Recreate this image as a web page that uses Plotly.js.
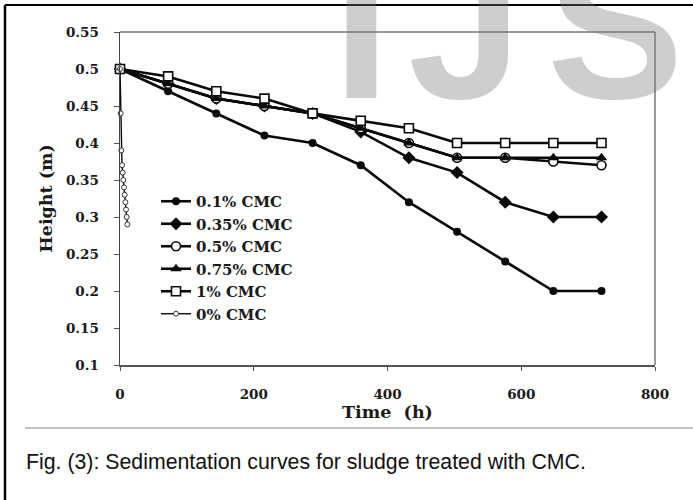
<!DOCTYPE html>
<html>
<head>
<meta charset="utf-8">
<script src="https://cdn.plot.ly/plotly-3.0.1.min.js"></script>
<style>
  html, body { margin: 0; padding: 0; background: #fff; }
  #chart { width: 693px; height: 500px; }
</style>
</head>
<body>
<div id="chart"></div>
<script>
// Settling time (h) for the CMC-treated samples
const time = [0, 72, 144, 216, 288, 360, 432, 504, 576, 648, 720];
// Interface height (m) for each CMC dose
const cmc01  = [0.50, 0.47, 0.44, 0.41, 0.40, 0.37, 0.32, 0.28, 0.24, 0.20, 0.20];
const cmc035 = [0.50, 0.48, 0.46, 0.45, 0.44, 0.415, 0.38, 0.36, 0.32, 0.30, 0.30];
const cmc05  = [0.50, 0.48, 0.46, 0.45, 0.44, 0.42, 0.40, 0.38, 0.38, 0.375, 0.37];
const cmc075 = [0.50, 0.48, 0.46, 0.45, 0.44, 0.42, 0.40, 0.38, 0.38, 0.38, 0.38];
const cmc1   = [0.50, 0.49, 0.47, 0.46, 0.44, 0.43, 0.42, 0.40, 0.40, 0.40, 0.40];
// Untreated sludge settles within the first hours
const timeUntreated = [0, 1, 2, 3, 4, 5, 6, 7, 8, 9, 10, 11];
const cmc0 = [0.50, 0.44, 0.39, 0.37, 0.36, 0.35, 0.34, 0.33, 0.32, 0.31, 0.30, 0.29];

const seriesNames = ['0.1% CMC', '0.35% CMC', '0.5% CMC', '0.75% CMC', '1% CMC', '0% CMC'];
const xTicks = [0, 200, 400, 600, 800];
const yTicks = [0.1, 0.15, 0.2, 0.25, 0.3, 0.35, 0.4, 0.45, 0.5, 0.55];
const yTickText = ['0.1', '0.15', '0.2', '0.25', '0.3', '0.35', '0.4', '0.45', '0.5', '0.55'];

const W = 693, H = 500;
const M = { l: 120, r: 38, t: 32, b: 135 };
const plotH = H - M.t - M.b;
const plotW = W - M.l - M.r;
// pixel -> paper coordinates helpers for page furniture
const px = x => (x - M.l) / plotW;
const py = y => (H - M.b - y) / plotH;

const serif = 'DejaVu Serif';
const ink = '#0a0a0a';

function series(x, y, name, marker, lineWidth) {
  return {
    x: x, y: y, name: name, type: 'scatter', mode: 'lines+markers',
    line: { color: ink, width: lineWidth },
    marker: marker,
    cliponaxis: false
  };
}

const data = [
  series(time, cmc01, seriesNames[0], { symbol: 'circle', size: 8, color: ink }, 2.6),
  series(time, cmc035, seriesNames[1], { symbol: 'diamond', size: 10, color: ink }, 2.6),
  series(time, cmc05, seriesNames[2], { symbol: 'circle', size: 9, color: '#fff', line: { width: 1.6, color: ink } }, 2.6),
  series(time, cmc075, seriesNames[3], { symbol: 'triangle-up', size: 10, color: ink }, 2.6),
  series(time, cmc1, seriesNames[4], { symbol: 'square', size: 9, color: '#fff', line: { width: 1.6, color: ink } }, 2.6),
  series(timeUntreated, cmc0, seriesNames[5], { symbol: 'circle', size: 5, color: '#fff', line: { width: 1, color: '#333' } }, 1.4)
];

const tickFont = { family: serif, size: 13.5, color: '#1a1a1a', weight: 'bold' };
const markColor = 'rgba(120,120,120,0.36)';

function mark(letter, cx) {
  return {
    text: letter, xref: 'paper', yref: 'paper', x: px(cx), y: py(100),
    xanchor: 'center', yanchor: 'bottom', yshift: -0.212 * 205,
    showarrow: false,
    font: { family: 'Liberation Sans', size: 205, color: markColor, weight: 'bold' }
  };
}

const layout = {
  width: W, height: H,
  margin: M,
  paper_bgcolor: '#fff',
  plot_bgcolor: 'rgba(0,0,0,0)',
  showlegend: true,
  legend: {
    x: px(156), y: py(185), xanchor: 'left', yanchor: 'top',
    bgcolor: 'rgba(0,0,0,0)', borderwidth: 0,
    font: { family: serif, size: 15, color: '#1a1a1a', weight: 'bold' },
    tracegroupgap: 0
  },
  xaxis: {
    range: [0, 800], tickvals: xTicks, ticktext: xTicks.map(String),
    showgrid: false, zeroline: false,
    showline: true, linecolor: '#555', linewidth: 1.5,
    ticks: 'outside', ticklen: 4, tickcolor: '#555', tickwidth: 1,
    ticklabelstandoff: 12,
    tickfont: tickFont,
    title: { text: 'Time\u00a0 (h)', standoff: 2, font: { family: serif, size: 17.5, color: '#1a1a1a', weight: 'bold' } }
  },
  yaxis: {
    range: [0.1, 0.55], tickvals: yTicks, ticktext: yTickText,
    showgrid: false, zeroline: false,
    showline: true, linecolor: '#444', linewidth: 1.5,
    ticks: 'outside', ticklen: 5, tickcolor: '#555', tickwidth: 1,
    ticklabelstandoff: 12,
    tickfont: tickFont,
    title: { text: 'Height (m)', standoff: 9, font: { family: serif, size: 17.5, color: '#1a1a1a', weight: 'bold' } }
  },
  shapes: [
    // plot frame, top and right
    { type: 'line', xref: 'paper', yref: 'paper', x0: 0, x1: 1, y0: 1, y1: 1, line: { color: '#999', width: 2 } },
    { type: 'line', xref: 'paper', yref: 'paper', x0: 1, x1: 1, y0: 0, y1: 1, line: { color: '#999', width: 2 } },
    // figure frame
    { type: 'line', xref: 'paper', yref: 'paper', x0: px(5), x1: px(693), y0: py(5), y1: py(5), line: { color: '#000', width: 2 } },
    { type: 'line', xref: 'paper', yref: 'paper', x0: px(5), x1: px(5), y0: py(5), y1: py(500), line: { color: '#000', width: 2.5 } },
    // chart area bottom rule
    { type: 'line', xref: 'paper', yref: 'paper', x0: px(25), x1: px(693), y0: py(428), y1: py(428), line: { color: '#aaa', width: 1.5 } }
  ],
  annotations: [
    { text: 'Fig. (3): Sedimentation curves for sludge treated with CMC.', xref: 'paper', yref: 'paper',
      x: px(24), y: py(462), xanchor: 'left', yanchor: 'middle', showarrow: false,
      font: { family: 'Liberation Sans', size: 21.3, color: '#111' } },
    // journal mark
    mark('I', 361),
    mark('J', 465),
    mark('S', 615)
  ]
};

Plotly.newPlot('chart', data, layout, { staticPlot: true, displayModeBar: false });
</script>
</body>
</html>
